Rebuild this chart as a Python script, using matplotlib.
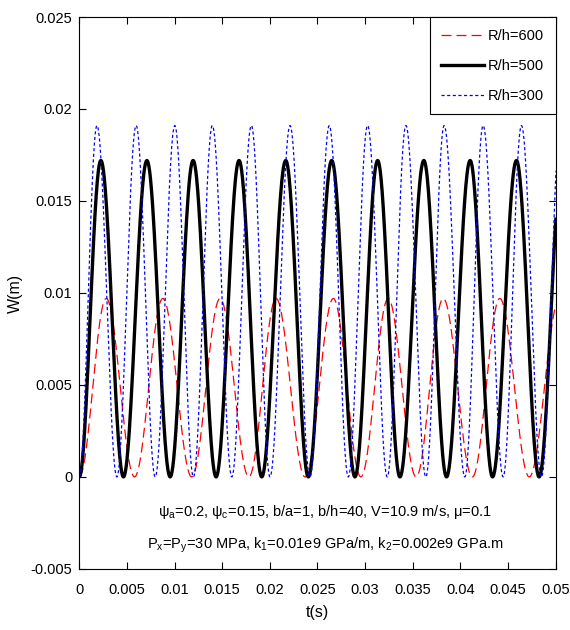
import numpy as np
import matplotlib
matplotlib.use("Agg")
import matplotlib.pyplot as plt

# ---- data (times of crests / troughs, crest heights) ----
labels = ["R/h=600", "R/h=500", "R/h=300"]

red_peak_t = [0.00283, 0.00877, 0.01478, 0.02065, 0.02666, 0.03242, 0.03819, 0.04413, 0.0504]
red_trough_t = [0.0, 0.00580, 0.01180, 0.01780, 0.02370, 0.02955, 0.03535, 0.04125, 0.04722]
red_peak_w = 0.0097

black_peak_t = [0.00227, 0.00710, 0.01195, 0.01677, 0.02167, 0.02649, 0.03131, 0.03616, 0.04102, 0.04588, 0.05070]
black_trough_t = [0.0, 0.00464, 0.00954, 0.01436, 0.01915, 0.02404, 0.02893, 0.03365, 0.03854, 0.04337, 0.04825]
black_peak_w = 0.0172

blue_peak_t = [0.00186, 0.00597, 0.01003, 0.01397, 0.01806, 0.02212, 0.02624, 0.03026, 0.03428, 0.03829, 0.04238, 0.04640, 0.05050]
blue_trough_t = [0.0, 0.00395, 0.00797, 0.01198, 0.01601, 0.02002, 0.02421, 0.02823, 0.03232, 0.03637, 0.04046, 0.04448, 0.04850]
blue_peak_w = 0.0191

x_ticks = [0, 0.005, 0.01, 0.015, 0.02, 0.025, 0.03, 0.035, 0.04, 0.045, 0.05]
x_ticklabels = ["0", "0.005", "0.01", "0.015", "0.02", "0.025", "0.03", "0.035", "0.04", "0.045", "0.05"]
y_ticks = [-0.005, 0, 0.005, 0.01, 0.015, 0.02, 0.025]
y_ticklabels = ["-0.005", "0", "0.005", "0.01", "0.015", "0.02", "0.025"]


def build_curve(peaks, troughs, amp, n=60):
    pts = sorted([(t, amp) for t in peaks] + [(t, 0.0) for t in troughs])
    ts, ws = [], []
    for (t0, v0), (t1, v1) in zip(pts[:-1], pts[1:]):
        s = np.linspace(0, 1, n, endpoint=False)
        ts.append(t0 + s * (t1 - t0))
        ws.append(v0 + (v1 - v0) * (1 - np.cos(np.pi * s)) / 2)
    ts.append([pts[-1][0]])
    ws.append([pts[-1][1]])
    return np.concatenate(ts), np.concatenate(ws)


plt.rcParams['font.family'] = ['Liberation Sans', 'DejaVu Sans']
plt.rcParams['mathtext.fontset'] = 'custom'
plt.rcParams['mathtext.rm'] = 'Liberation Sans'
plt.rcParams['mathtext.it'] = 'Liberation Sans'

fig = plt.figure(figsize=(5.7, 6.3), dpi=100)
ax = fig.add_axes([0.139, 0.097, 0.836, 0.876])

tr, wr = build_curve(red_peak_t, red_trough_t, red_peak_w)
tk, wk = build_curve(black_peak_t, black_trough_t, black_peak_w)
tb, wb = build_curve(blue_peak_t, blue_trough_t, blue_peak_w)

ax.plot(tr, wr, color='red', lw=0.9, dashes=(8, 4), label=labels[0])
ax.plot(tk, wk, color='black', lw=2.4, label=labels[1])
ax.plot(tb, wb, color='blue', lw=0.9, dashes=(2.5, 2), label=labels[2])

ax.set_xlim(0, 0.05)
ax.set_ylim(-0.005, 0.025)
ax.set_xticks(x_ticks)
ax.set_xticklabels(x_ticklabels)
ax.set_yticks(y_ticks)
ax.set_yticklabels(y_ticklabels)
ax.tick_params(direction='in', length=5, width=0.8, top=True, right=True, labelsize=10.5)
ax.tick_params(axis='x', pad=10)
ax.tick_params(axis='y', pad=5)
for sp in ax.spines.values():
    sp.set_linewidth(0.8)

ax.set_xlabel("t(s)", fontsize=11.5, labelpad=6)
ax.set_ylabel("W(m)", fontsize=11.5)
ax.yaxis.set_label_coords(-0.118, 0.5)

ax.text(0.0258, -0.0019, r"$\psi_a$=0.2, $\psi_c$=0.15, b/a=1, b/h=40, V=10.9 m/s, $\mu$=0.1",
        ha='center', va='center', fontsize=10.5)
ax.text(0.0258, -0.0037, r"P$_x$=P$_y$=30 MPa, k$_1$=0.01e9 GPa/m, k$_2$=0.002e9 GPa.m",
        ha='center', va='center', fontsize=10.5)

leg = ax.legend(loc='upper right', fontsize=10.5, fancybox=False, framealpha=1,
                edgecolor='black', borderaxespad=0, handlelength=2.9, handletextpad=0.3,
                labelspacing=1.1, borderpad=0.8)
leg.get_frame().set_linewidth(0.8)

fig.savefig("out.png", dpi=100)
